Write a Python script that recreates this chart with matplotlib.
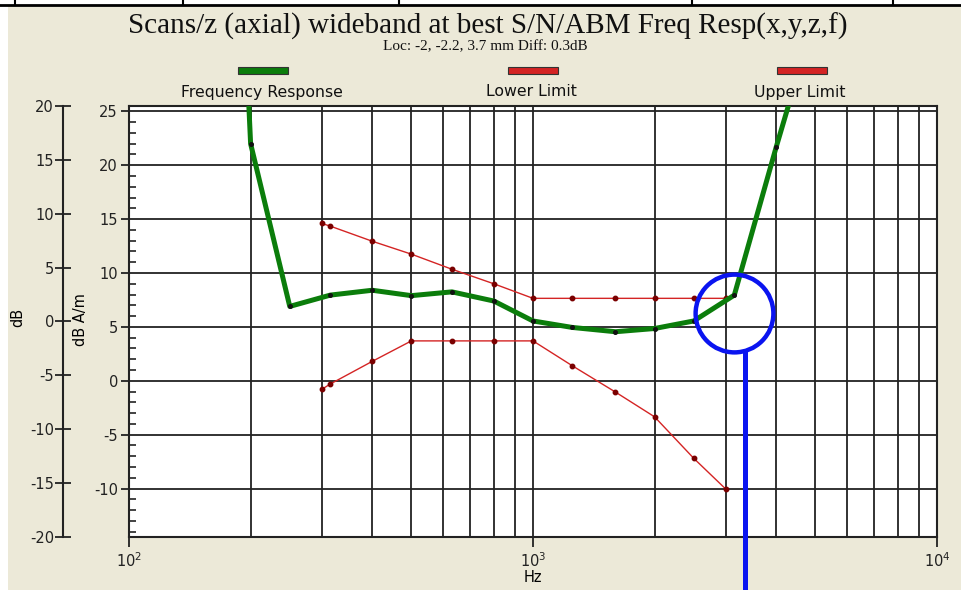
import matplotlib
matplotlib.use('Agg')
import matplotlib.pyplot as plt
import matplotlib.ticker as ticker
from matplotlib.patches import Rectangle
from matplotlib.lines import Line2D

plt.rcParams['font.family'] = ['DejaVu Sans']
plt.rcParams['axes.unicode_minus'] = False

# frequency response (dB A/m)
resp_freq = [160, 200, 250, 315, 400, 500, 630, 800, 1000, 1250, 1600, 2000, 2500, 3150, 4000, 5000]
resp_db = [100, 22.0, 6.9, 7.95, 8.4, 7.9, 8.25, 7.4, 5.55, 4.95, 4.55, 4.85, 5.55, 7.95, 21.7, 34.0]

# limit lines
lim_freq = [300, 315, 400, 500, 630, 800, 1000, 1250, 1600, 2000, 2500, 3000]
upper_db = [14.6, 14.35, 12.95, 11.75, 10.35, 9.0, 7.65, 7.65, 7.65, 7.65, 7.65, 7.65]
lower_db = [-0.8, -0.3, 1.8, 3.7, 3.7, 3.7, 3.7, 1.4, -1.05, -3.35, -7.2, -10.05]

series_names = ['Frequency Response', 'Lower Limit', 'Upper Limit']
series_colors = ['#0b7d0b', '#d42424', '#d42424']

# marker circle + pointer
mark_freq = 3150
mark_db = 6.25
pointer_freq = 3350
pointer_db = [2.6, -21]

W, H = 962, 590
bg = '#ECE9D8'


def fx(x):
    return x / W


def fy(y):
    return 1 - y / H


fig = plt.figure(figsize=(W / 100, H / 100), dpi=100, facecolor=bg)

# window frame bits
fig.add_artist(Rectangle((0, 0), fx(8), 1, transform=fig.transFigure, color='white', lw=0))
fig.add_artist(Rectangle((0, fy(5)), 1, 1 - fy(5), transform=fig.transFigure, color='white', lw=0))
fig.add_artist(Line2D([0, 1], [fy(5), fy(5)], transform=fig.transFigure, color='black', lw=2))
for xv in [15, 183, 399, 692, 893]:
    fig.add_artist(Line2D([fx(xv), fx(xv)], [fy(5), 1], transform=fig.transFigure, color='black', lw=1.5))

ax = fig.add_axes([fx(129), fy(537), fx(937 - 129), (537 - 106) / H])
ax.set_facecolor('white')
ax.set_xscale('log')
ax.set_xlim(100, 10000)
ax.set_ylim(-14.5, 25.5)
ax.set_yticks(range(-10, 26, 5))
ax.yaxis.set_minor_locator(ticker.MultipleLocator(1))
ax.xaxis.set_minor_locator(ticker.LogLocator(base=10, subs=range(2, 10)))
ax.xaxis.set_minor_formatter(ticker.NullFormatter())
ax.grid(which='major', axis='y', color='#222222', lw=1.3)
ax.grid(which='both', axis='x', color='#222222', lw=1.3)
ax.set_axisbelow(True)
for s in ax.spines.values():
    s.set_color('#222222')
    s.set_linewidth(1.5)
ax.tick_params(axis='y', which='major', direction='out', length=6, width=1.3, labelsize=10.5, pad=2, colors='#222222')
ax.tick_params(axis='y', which='minor', direction='in', length=5, width=1.2, colors='#222222')
ax.tick_params(axis='x', which='major', direction='out', length=7, width=1.3, labelsize=10.5, pad=3, colors='#222222')
ax.tick_params(axis='x', which='minor', length=0)
ax.set_xlabel('Hz', fontsize=10.5, labelpad=0)
ax.set_ylabel('dB A/m', fontsize=10.5)
ax.yaxis.set_label_coords(-0.051, 0.505)

ax.plot(lim_freq, upper_db, color=series_colors[2], lw=1, marker='o', ms=3.2,
        mfc='#7a0000', mec='#7a0000', zorder=3)
ax.plot(lim_freq, lower_db, color=series_colors[1], lw=1, marker='o', ms=3.2,
        mfc='#7a0000', mec='#7a0000', zorder=3)
ax.plot(resp_freq, resp_db, color=series_colors[0], lw=3.6, marker='o', ms=2.6,
        mfc='#111111', mec='#111111', zorder=4)

ax.plot([mark_freq], [mark_db], marker='o', ms=56, mfc='none', mec='#0a14f0', mew=3.2, zorder=5)
ax.plot([pointer_freq, pointer_freq], pointer_db, color='#0a14f0', lw=3.6, clip_on=False, zorder=5)

# outer dB axis
ax2 = ax.twinx()
ax2.set_ylim(-20, 20)
ax2.set_yticks(range(-20, 21, 5))
ax2.yaxis.tick_left()
ax2.yaxis.set_label_position('left')
for side in ['right', 'top', 'bottom']:
    ax2.spines[side].set_visible(False)
ax2.spines['left'].set_position(('outward', 47.5))
ax2.spines['left'].set_color('#222222')
ax2.spines['left'].set_linewidth(1.5)
ax2.tick_params(axis='y', direction='inout', length=11, width=1.3, labelsize=10.5, pad=1, colors='#222222')
ax2.set_ylabel('dB', fontsize=10.5)
ax2.yaxis.set_label_coords(-0.128, 0.51)

# title block
fig.text(fx(488), fy(26), 'Scans/z (axial) wideband at best S/N/ABM Freq Resp(x,y,z,f)',
         family='Liberation Serif', fontsize=21, ha='center', va='center', color='#111111')
fig.text(fx(485), fy(47), 'Loc: -2, -2.2, 3.7 mm Diff: 0.3dB',
         family='Liberation Serif', fontsize=11, ha='center', va='center', color='#111111')

# legend
sw_x = [263, 533, 802]
lab_x = [262, 531, 800]
for name, col, sx, lx in zip(series_names, series_colors, sw_x, lab_x):
    fig.add_artist(Rectangle((fx(sx - 25), fy(74)), fx(50), 7 / H, transform=fig.transFigure,
                             facecolor=col, edgecolor='#333333', lw=0.8))
    fig.text(fx(lx), fy(92), name, fontsize=11.3, ha='center', va='center', color='#111111')

fig.savefig('out.png', dpi=100, facecolor=bg)
